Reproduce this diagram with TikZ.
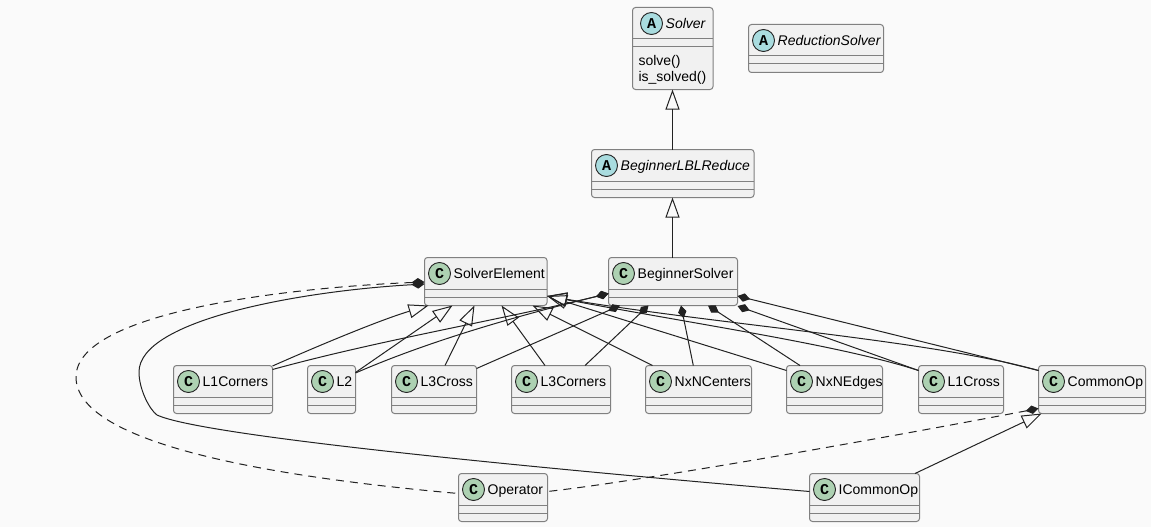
\documentclass[tikz,border=0pt]{standalone}
\usepackage{fontspec}
\setmainfont{Liberation Sans}
\newfontfamily\glyphfont{Liberation Mono}
\usetikzlibrary{arrows.meta}
\definecolor{pagebg}{HTML}{FAFAFA}
\definecolor{boxfill}{HTML}{F1F1F1}
\definecolor{boxline}{HTML}{808080}
\definecolor{inkline}{HTML}{222222}
\definecolor{circC}{HTML}{ADD1B2}
\definecolor{circA}{HTML}{A9DCDF}
\tikzset{
  x=1pt,y=-1pt,
  classbox/.style={draw=boxline,fill=boxfill,line width=1pt,rounded corners=3pt,inner sep=0pt,outer sep=0pt,anchor=north west},
  divider/.style={draw=boxline,line width=1pt},
  glyphC/.style={circle,draw=inkline,line width=0.9pt,fill=circC,minimum size=22pt,inner sep=0pt,font=\glyphfont\bfseries\fontsize{15}{15}\selectfont},
  glyphA/.style={glyphC,fill=circA},
  classlabel/.style={anchor=base west,inner sep=0pt,font=\fontsize{14}{16}\selectfont,text=black},
  member/.style={classlabel},
  conn/.style={draw=inkline,line width=1pt},
  inh/.style={conn,-{Triangle[open,length=20pt,width=14pt,sep=0pt]}},
  comp/.style={conn,{Diamond[length=13pt,width=8.5pt,fill=inkline]}-},
  compd/.style={comp,dash pattern=on 8pt off 6pt},
}
% name, x, y, w, h, glyph style, letter, label, indent
\newcommand\umlclass[9]{%
  \node[classbox,minimum width=#4pt,minimum height=#5pt] (#1) at (#2,#3) {};
  \draw[divider] ([shift={(0,31.5)}]#1.north west) -- ([shift={(0,31.5)}]#1.north east);
  \draw[divider] ([shift={(0,39.5)}]#1.north west) -- ([shift={(0,39.5)}]#1.north east);
  \node[#6] (#1-glyph) at ([shift={(#9,16)}]#1.north west) {#7};
  \node[classlabel] (#1-label) at ([shift={(#9+14,21)}]#1.north west) {#8};
}
\begin{document}
\begin{tikzpicture}
\useasboundingbox (0,0) rectangle (1151,527);
\fill[pagebg] (0,0) rectangle (1151,527);

\umlclass{Solver}{632.5}{7.5}{80.5}{82}{glyphA}{A}{\itshape Solver}{19}
\node[member] (solveM) at ([shift={(5.8,58)}]Solver.north west) {solve()};
\node[member] (issolvedM) at ([shift={(5.8,74)}]Solver.north west) {is\_solved()};
\umlclass{ReductionSolver}{748.5}{24.5}{135}{48}{glyphA}{A}{\itshape ReductionSolver}{15}
\umlclass{BeginnerLBLReduce}{591.5}{149.5}{162.5}{48}{glyphA}{A}{\itshape BeginnerLBLReduce}{15}
\umlclass{SolverElement}{424.5}{257.5}{122.5}{48}{glyphC}{C}{SolverElement}{15}
\umlclass{BeginnerSolver}{608.5}{257.5}{129}{48}{glyphC}{C}{BeginnerSolver}{15}
\umlclass{L1Corners}{173.5}{365.5}{99}{48}{glyphC}{C}{L1Corners}{15}
\umlclass{L2}{307.5}{365.5}{48}{48}{glyphC}{C}{L2}{15}
\umlclass{L3Cross}{391.5}{365.5}{85}{48}{glyphC}{C}{L3Cross}{15}
\umlclass{L3Corners}{511.5}{365.5}{99}{48}{glyphC}{C}{L3Corners}{15}
\umlclass{NxNCenters}{645.5}{365.5}{106}{48}{glyphC}{C}{NxNCenters}{15}
\umlclass{NxNEdges}{786.5}{365.5}{96}{48}{glyphC}{C}{NxNEdges}{15}
\umlclass{L1Cross}{918.5}{365.5}{85}{48}{glyphC}{C}{L1Cross}{15}
\umlclass{CommonOp}{1038.5}{365.5}{107}{48}{glyphC}{C}{CommonOp}{15}
\umlclass{Operator}{458.5}{473.5}{89}{48}{glyphC}{C}{Operator}{15}
\umlclass{ICommonOp}{809.5}{473.5}{110}{48}{glyphC}{C}{ICommonOp}{15}

% inheritance
\draw[inh] ([shift={(81,0)}]BeginnerLBLReduce.north west) -- ([shift={(40,0)}]Solver.south west);
\draw[inh] ([shift={(64,0)}]BeginnerSolver.north west) -- ([shift={(81,0)}]BeginnerLBLReduce.south west);
\draw[inh] ([shift={(0,0.5)}]L1Corners.north east) .. controls (320,345) and (380,320) .. ([shift={(4,0)}]SolverElement.south west);
\draw[inh] ([shift={(0,7)}]L2.north east) -- ([shift={(28,0)}]SolverElement.south west);
\draw[inh] ([shift={(53.5,0)}]L3Cross.north west) -- ([shift={(50,0)}]SolverElement.south west);
\draw[inh] ([shift={(33.5,0)}]L3Corners.north west) -- ([shift={(77,0)}]SolverElement.south west);
\draw[inh] ([shift={(7,0)}]NxNCenters.north west) -- ([shift={(108,0)}]SolverElement.south west);
\draw[inh] ([shift={(0,5)}]NxNEdges.north west) -- ([shift={(0,-9.5)}]SolverElement.south east);
\draw[inh] ([shift={(0,5)}]L1Cross.north west) .. controls (840,345) and (700,325) .. ([shift={(0,-9.5)}]SolverElement.south east);
\draw[inh] ([shift={(0,5)}]CommonOp.north west) .. controls (930,340) and (720,325) .. ([shift={(0,-9.5)}]SolverElement.south east);
\draw[inh] ([shift={(105.5,0)}]ICommonOp.north west) -- ([shift={(3.2,0)}]CommonOp.south west);

% composition
\draw[comp] ([shift={(0,-12)}]BeginnerSolver.south west) .. controls (500,320) and (380,340) .. ([shift={(0,4)}]L1Corners.north east);
\draw[comp] ([shift={(0,-12)}]BeginnerSolver.south west) .. controls (500,320) and (420,345) .. ([shift={(0,7.5)}]L2.north east);
\draw[comp] ([shift={(11.5,0)}]BeginnerSolver.south west) -- ([shift={(0,3)}]L3Cross.north east);
\draw[comp] ([shift={(40,0)}]BeginnerSolver.south west) -- ([shift={(73.5,0)}]L3Corners.north west);
\draw[comp] ([shift={(72.5,0)}]BeginnerSolver.south west) -- ([shift={(47.8,0)}]NxNCenters.north west);
\draw[comp] ([shift={(99.5,0)}]BeginnerSolver.south west) -- ([shift={(13.5,0)}]NxNEdges.north west);
\draw[comp] ([shift={(0,0.5)}]BeginnerSolver.south east) -- ([shift={(0,5)}]L1Cross.north west);
\draw[comp] ([shift={(0,-9.5)}]BeginnerSolver.south east) -- ([shift={(0,5)}]CommonOp.north west);
\draw[comp] ([shift={(0,-21.5)}]SolverElement.south west) .. controls (300,291) and (139,320) .. (139,372) .. controls (139,390) and (150,410) .. (157,415) .. controls (200,435) and (500,465) .. ([shift={(0,18)}]ICommonOp.north west);
\draw[compd] ([shift={(0,-23.5)}]SolverElement.south west) .. controls (300,287) and (76,310) .. (76,377) .. controls (76,440) and (250,475) .. ([shift={(0,20)}]Operator.north west);
\draw[compd] ([shift={(0,-5)}]CommonOp.south west) .. controls (900,435) and (650,480) .. ([shift={(0,18)}]Operator.north east);
\end{tikzpicture}
\end{document}
